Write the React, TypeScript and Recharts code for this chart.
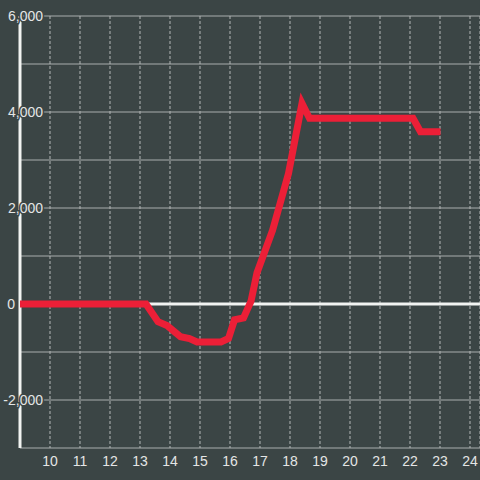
import { LineChart, Line, XAxis, YAxis, CartesianGrid, ReferenceLine } from "recharts";

const hours = [9, 13.2, 13.6, 13.9, 14.35, 14.65, 14.9, 15.7, 15.95, 16.15, 16.45, 16.7, 16.9, 17.42, 17.95, 18.4, 18.65, 22.1, 22.35, 22.9];
const values = [0, 0, -370, -450, -680, -720, -790, -790, -720, -330, -290, 60, 650, 1540, 2720, 4180, 3870, 3870, 3590, 3590];
const xTicks = [10, 11, 12, 13, 14, 15, 16, 17, 18, 19, 20, 21, 22, 23, 24];
const yTicks = [-3000, -2000, -1000, 0, 1000, 2000, 3000, 4000, 5000, 6000];

const data = hours.map((h, i) => ({ h, v: values[i] }));

const BG = "#3b4545";
const TEXT = "#e4e6e6";
const FONT = "'Liberation Sans', Arial, sans-serif";

// only every other thousand gets a label; labels have a halo in the bg colour
function YTick(props: { x?: number; y?: number; payload?: { value: number } }) {
  const { x = 0, y = 0, payload } = props;
  if (!payload || payload.value % 2000 !== 0) return null;
  const v = payload.value;
  const label = v.toLocaleString("en-US");
  return (
    <text
      x={v === 0 ? x - 5 : x + 23}
      y={y}
      dy="0.355em"
      textAnchor="end"
      fill={TEXT}
      stroke={BG}
      strokeWidth={3}
      paintOrder="stroke"
      fontSize={14}
      fontFamily={FONT}
    >
      {label}
    </text>
  );
}

export default function App() {
  return (
    <div style={{ position: "absolute", left: 0, top: 0, width: 480, height: 480, background: BG }}>
      <LineChart width={480} height={480} data={data} margin={{ top: 16, right: 0, bottom: 0, left: 0 }}>
        <CartesianGrid
          stroke="#a9aeae"
          verticalFill={[]}
          horizontalPoints={undefined}
          vertical={false}
        />
        <CartesianGrid stroke="#b4b8b8" strokeDasharray="3 2" horizontal={false} />
        <XAxis
          dataKey="h"
          type="number"
          domain={[9, 24.333]}
          ticks={xTicks}
          allowDataOverflow
          axisLine={false}
          tickLine={false}
          height={32}
          tick={{ fill: TEXT, fontSize: 14, fontFamily: FONT }}
        />
        <YAxis
          type="number"
          domain={[-3000, 6000]}
          ticks={yTicks}
          width={20}
          tickSize={0}
          tickMargin={0}
          tickLine={false}
          axisLine={{ stroke: "#f2f4f2", strokeWidth: 3 }}
          tick={<YTick />}
        />
        <ReferenceLine y={0} stroke="#f2f4f2" strokeWidth={3} />
        <Line
          dataKey="v"
          type="linear"
          stroke="#ec1f37"
          strokeWidth={7}
          strokeLinecap="square"
          strokeLinejoin="miter"
          dot={false}
          activeDot={false}
          isAnimationActive={false}
          zIndex={600}
        />
      </LineChart>
    </div>
  );
}
